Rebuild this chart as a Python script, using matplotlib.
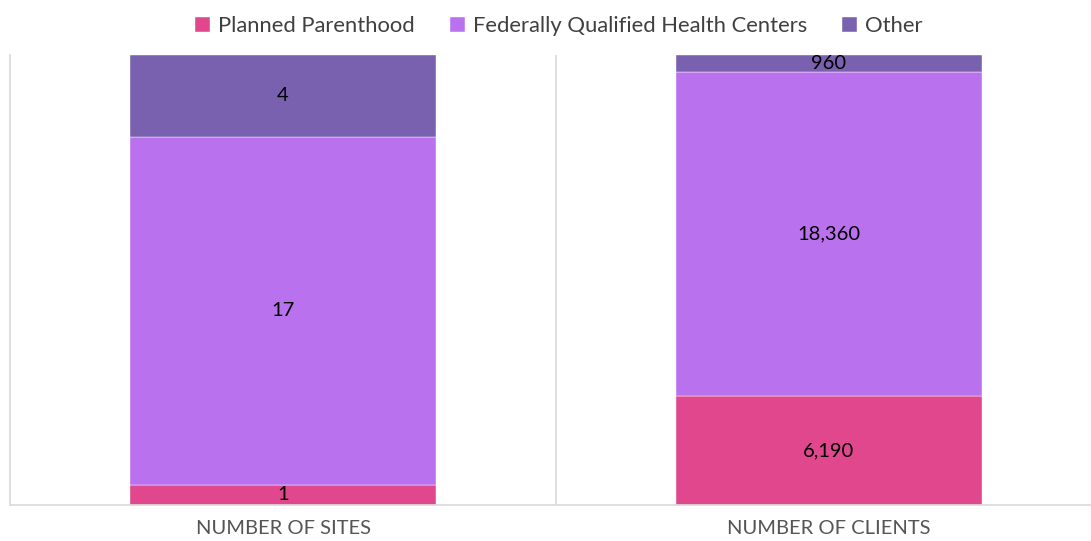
import matplotlib.pyplot as plt
import numpy as np

categories = ['NUMBER OF SITES', 'NUMBER OF CLIENTS']
series = ['Planned Parenthood', 'Federally Qualified Health Centers', 'Other']
planned = [1, 6190]
fqhc = [17, 18360]
other = [4, 960]
labels = [['1', '6,190'], ['17', '18,360'], ['4', '960']]
colors = ['#E0478D', '#BA71EE', '#7A61B0']

plt.rcParams['font.family'] = ['Lato', 'DejaVu Sans']

fig = plt.figure(figsize=(10.91, 5.41), dpi=100)
ax = fig.add_axes([10 / 1091, 36 / 541, 1092 / 1091, 450 / 541])

values = np.array([planned, fqhc, other], dtype=float)
shares = values / values.sum(axis=0)
x = np.arange(len(categories))
bottom = np.zeros(len(categories))
for i, name in enumerate(series):
    ax.bar(x, shares[i], 0.56, bottom=bottom, color=colors[i], label=name,
           edgecolor='white', linewidth=0.3, zorder=2)
    for j in range(len(categories)):
        ax.text(x[j], bottom[j] + shares[i][j] / 2, labels[i][j],
                ha='center', va='center', fontsize=14.5, color='black', zorder=3)
    bottom += shares[i]

ax.set_xlim(-0.5, 1.5)
ax.set_ylim(0, 1)
ax.set_yticks([])
ax.set_xticks(x)
ax.set_xticklabels(categories, fontsize=14.5, color='#555555')
ax.tick_params(axis='x', length=0, pad=11)
ax.axvline(0.5, color='#D9D9D9', linewidth=1.2, zorder=1)
for s in ['top', 'right']:
    ax.spines[s].set_visible(False)
for s in ['left', 'bottom']:
    ax.spines[s].set_color('#D9D9D9')
    ax.spines[s].set_linewidth(1.2)

fig.legend(loc='center', bbox_to_anchor=(0.512, 0.952), ncol=3, frameon=False,
           fontsize=15.8, handlelength=0.7, handleheight=0.7, handletextpad=0.35,
           columnspacing=1.6, labelcolor='#404040')

fig.savefig('out.png', dpi=100)
